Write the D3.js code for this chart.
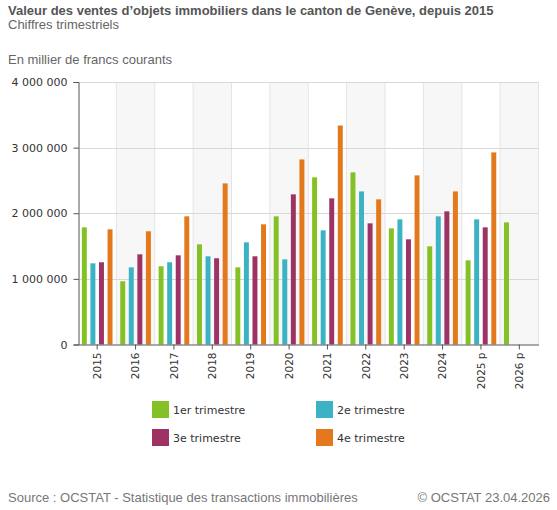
<!DOCTYPE html>
<html><head><meta charset="utf-8">
<script src="https://cdn.jsdelivr.net/npm/d3@7"></script>
<style>
body{margin:0;background:#fff;}
svg{display:block;}
</style></head>
<body>
<svg id="c" width="557" height="510"></svg>
<script>
const years = ["2015","2016","2017","2018","2019","2020","2021","2022","2023","2024","2025 p","2026 p"];
const seriesNames = ["1er trimestre","2e trimestre","3e trimestre","4e trimestre"];
const seriesColors = ["#84c126","#3cb3c4","#9c3364","#e3791c"];
const q1 = [1785000,963000,1192000,1527000,1176000,1953000,2547000,2623000,1770000,1496000,1283000,1861000];
const q2 = [1237000,1176000,1253000,1344000,1557000,1298000,1740000,2333000,1907000,1953000,1907000,null];
const q3 = [1253000,1374000,1359000,1314000,1344000,2288000,2227000,1846000,1603000,2029000,1785000,null];
const q4 = [1755000,1725000,1953000,2455000,1831000,2820000,3337000,2212000,2577000,2333000,2927000,null];
const yTicks = [0,1000000,2000000,3000000,4000000];

const series = [q1,q2,q3,q4];
const svg = d3.select("#c");
const m = {l:78,r:538.5,t:82,b:344.5};

const x0 = d3.scaleBand().domain(years).range([m.l,m.r]).paddingInner(0).paddingOuter(0);
const x1 = d3.scaleBand().domain(d3.range(4)).range([0,x0.bandwidth()]).paddingInner(0.42).paddingOuter(0.45);
const y = d3.scaleLinear().domain([0,4000000]).range([m.b,m.t]);

// alternating bands
svg.append("g").selectAll("rect").data(years.filter((d,i)=>i%2===1)).join("rect")
  .attr("x",d=>x0(d)).attr("y",m.t).attr("width",x0.bandwidth()).attr("height",m.b-m.t)
  .attr("fill","#f7f7f7");

// vertical grid lines
svg.append("g").selectAll("line").data(years.slice(1).concat(["__end"])).join("line")
  .attr("x1",d=>d==="__end"?m.r:x0(d)).attr("x2",d=>d==="__end"?m.r:x0(d))
  .attr("y1",m.t).attr("y2",m.b).attr("stroke","#e4e4e4").attr("stroke-width",1);

// horizontal grid
svg.append("g").selectAll("line").data(yTicks.filter(d=>d>0)).join("line")
  .attr("x1",m.l).attr("x2",m.r).attr("y1",d=>Math.round(y(d))+0.5).attr("y2",d=>Math.round(y(d))+0.5)
  .attr("stroke","#d8d8d8").attr("stroke-width",1);

// bars
series.forEach((s,si)=>{
  svg.append("g").selectAll("rect").data(s.map((v,i)=>({v,yr:years[i]})).filter(d=>d.v!=null)).join("rect")
    .attr("x",d=>x0(d.yr)+x1(si)).attr("width",x1.bandwidth())
    .attr("y",d=>y(d.v)).attr("height",d=>y(0)-y(d.v))
    .attr("fill",seriesColors[si]);
});

// y axis
const ya = svg.append("g").attr("transform",`translate(${m.l+0.5},0)`)
  .call(d3.axisLeft(y).tickValues(yTicks).tickSize(5).tickPadding(6)
    .tickFormat(d=>d3.format(",")(d).replace(/,/g," ")));
ya.select(".domain").attr("stroke","#555");
ya.selectAll(".tick line").attr("stroke","#555");
ya.selectAll("text").attr("font-family","DejaVu Sans").attr("font-size","11px").attr("fill","#333");

// x axis
const xa = svg.append("g").attr("transform",`translate(0,${m.b})`)
  .call(d3.axisBottom(x0).tickSize(5).tickSizeOuter(0));
xa.select(".domain").attr("stroke","#555");
xa.selectAll(".tick line").attr("stroke","#555");
xa.selectAll("text").attr("font-family","DejaVu Sans").attr("font-size","10.5px").attr("fill","#333")
  .attr("text-anchor","end").attr("transform","rotate(-90)").attr("x",-8).attr("y",0).attr("dy","0.35em");

// titles
svg.append("text").attr("x",8).attr("y",15).attr("font-family","Liberation Sans").attr("font-weight","bold")
  .attr("font-size","13px").attr("fill","#555").text("Valeur des ventes d’objets immobiliers dans le canton de Genève, depuis 2015");
svg.append("text").attr("x",8).attr("y",29).attr("font-family","Liberation Sans")
  .attr("font-size","13px").attr("fill","#666").text("Chiffres trimestriels");
svg.append("text").attr("x",8).attr("y",64).attr("font-family","Liberation Sans")
  .attr("font-size","13px").attr("fill","#666").text("En millier de francs courants");

// legend
const lg = svg.append("g");
const lpos = [[152,401],[316,401],[152,429],[316,429]];
seriesNames.forEach((n,i)=>{
  lg.append("rect").attr("x",lpos[i][0]).attr("y",lpos[i][1]).attr("width",17).attr("height",17).attr("fill",seriesColors[i]);
  lg.append("text").attr("x",lpos[i][0]+21).attr("y",lpos[i][1]+13).attr("font-family","DejaVu Sans")
    .attr("font-size","11px").attr("fill","#333").text(n);
});

// footer
svg.append("text").attr("x",8).attr("y",502).attr("font-family","Liberation Sans")
  .attr("font-size","13px").attr("fill","#777").text("Source : OCSTAT - Statistique des transactions immobilières");
svg.append("text").attr("x",550).attr("y",502).attr("text-anchor","end").attr("font-family","Liberation Sans")
  .attr("font-size","13px").attr("fill","#777").text("© OCSTAT 23.04.2026");
</script>
</body></html>
